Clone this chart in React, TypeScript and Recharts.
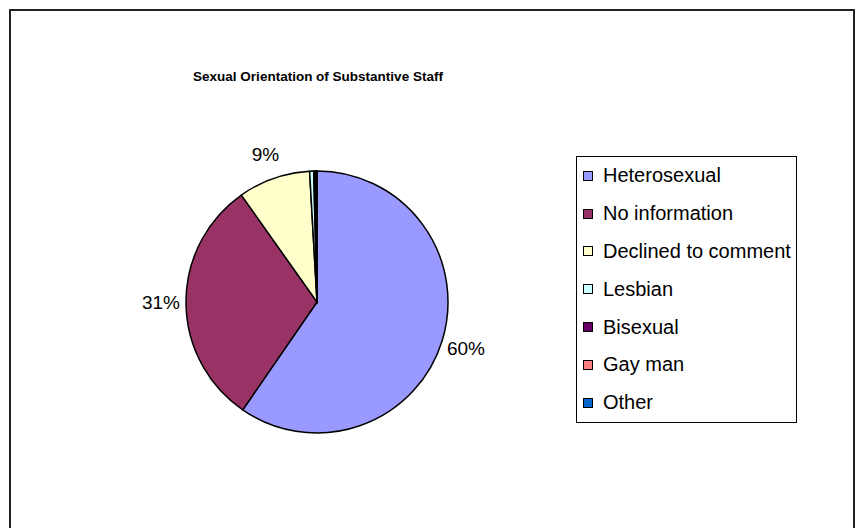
import React from 'react';
import { PieChart, Pie, Cell, Legend } from 'recharts';

const categories = ['Heterosexual', 'No information', 'Declined to comment', 'Lesbian', 'Bisexual', 'Gay man', 'Other'];
const values = [59.6, 30.6, 8.9, 0.5, 0.2, 0.15, 0.05];
const colors = ['#9999FF', '#993366', '#FFFFCC', '#CCFFFF', '#660066', '#FF8080', '#0066CC'];
const title = 'Sexual Orientation of Substantive Staff';

const data = categories.map((name, i) => ({ name, value: values[i] }));

const FONT = '"Liberation Sans", Arial, sans-serif';
const RADIAN = Math.PI / 180;

const renderLabel = (props: any) => {
  const { cx, cy, midAngle, outerRadius, percent } = props;
  if (percent < 0.01) return null;
  const r = outerRadius + 25;
  const x = cx + r * Math.cos(-midAngle * RADIAN);
  const y = cy + r * Math.sin(-midAngle * RADIAN);
  return (
    <text x={x} y={y} textAnchor="middle" dominantBaseline="central" fontFamily={FONT} fontSize={19} fill="#000">
      {`${Math.round(percent * 100)}%`}
    </text>
  );
};

const LegendContent = () => (
  <div
    style={{
      border: '1px solid #000',
      background: '#fff',
      padding: '0 5px 0 6px',
      fontFamily: FONT,
      fontSize: 20,
      color: '#000',
      boxSizing: 'border-box',
    }}
  >
    {categories.map((c, i) => (
      <div key={c} style={{ display: 'flex', alignItems: 'center', height: 37.8, whiteSpace: 'nowrap' }}>
        <span
          style={{
            display: 'inline-block',
            width: 8,
            height: 8,
            background: colors[i],
            border: '1px solid #000',
            marginRight: 10,
          }}
        />
        <span>{c}</span>
      </div>
    ))}
  </div>
);

export default function App() {
  return (
    <div style={{ position: 'absolute', left: 0, top: 0, width: 861, height: 528, background: '#fff', overflow: 'hidden' }}>
      <div
        style={{
          position: 'absolute',
          left: 9,
          top: 9,
          width: 846,
          height: 540,
          border: '2px solid #222',
          boxSizing: 'border-box',
        }}
      />
      <div
        style={{
          position: 'absolute',
          left: 0,
          width: 636,
          top: 69,
          textAlign: 'center',
          fontFamily: FONT,
          fontWeight: 'bold',
          fontSize: 13.5,
          color: '#000',
        }}
      >
        {title}
      </div>
      <div style={{ position: 'absolute', left: 0, top: 0 }}>
        <PieChart width={861} height={528}>
          <Pie
            data={data}
            dataKey="value"
            nameKey="name"
            cx={312}
            cy={297}
            outerRadius={131}
            startAngle={90}
            endAngle={-270}
            stroke="#000"
            strokeWidth={1.5}
            label={renderLabel}
            labelLine={false}
            isAnimationActive={false}
          >
            {data.map((d, i) => (
              <Cell key={d.name} fill={colors[i]} />
            ))}
          </Pie>
          <Legend
            layout="vertical"
            content={<LegendContent />}
            wrapperStyle={{ position: 'absolute', left: 576, top: 156, width: 'auto' }}
          />
        </PieChart>
      </div>
    </div>
  );
}
